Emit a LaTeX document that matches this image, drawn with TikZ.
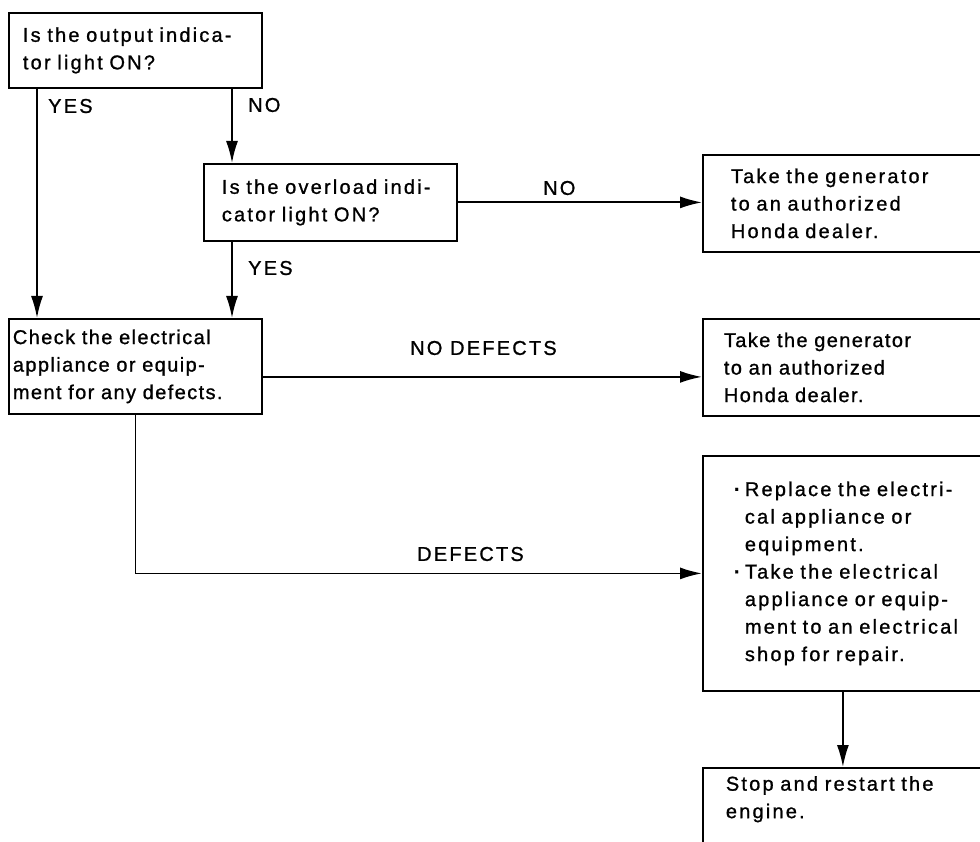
\documentclass[tikz,border=0pt]{standalone}
\usepackage{fontspec}
\setmainfont[LetterSpace=11,FakeBold=1]{Liberation Sans}
\newfontfamily\tightfont[LetterSpace=7,FakeBold=1]{Liberation Sans}
\usetikzlibrary{arrows.meta}

\newcommand{\chartfont}{\fontsize{20}{27.5}\selectfont}
\newcommand{\bulletmark}{\makebox[11pt][l]{\textbf{\textperiodcentered}}}
\newcommand{\bulletgap}{\hspace*{11pt}}

\begin{document}
\begin{tikzpicture}[x=1pt, y=-1pt,
    chartbox/.style={draw, line width=1.8pt, anchor=north west, align=left,
      inner sep=0pt, font=\chartfont},
    arr/.style={line width=1.8pt, -{Latex[length=22pt,width=12pt]}},
    answer/.style={inner sep=0pt, anchor=west, font=\chartfont}]
    \useasboundingbox (0,0) rectangle (980,842);

    % Fragen links
    \node[chartbox, minimum width=253pt, minimum height=75pt, text width=225pt]
      (outlight) at (8,12) {Is the output indica-\\tor light ON?};
    \node[chartbox, minimum width=253pt, minimum height=77pt, text width=217pt]
      (overload) at (203,163) {Is the overload indi-\\cator light ON?};
    \node[chartbox, minimum width=253pt, minimum height=95pt, text width=245pt]
      (check) at (8,318) {\tightfont Check the electrical\\appliance or equip-\\ment for any defects.};

    % Massnahmen rechts (rechter Rand abgeschnitten)
    \node[chartbox, minimum width=300pt, minimum height=97pt, text width=244pt]
      (dealerone) at (702,154) {Take the generator\\to an authorized\\Honda dealer.};
    \node[chartbox, minimum width=300pt, minimum height=97pt, text width=258pt]
      (dealertwo) at (702,318) {\tightfont Take the generator\\to an authorized\\Honda dealer.};
    \node[chartbox, minimum width=300pt, minimum height=235pt, text width=238pt]
      (replace) at (702,455) {\bulletmark Replace the electri-\\\bulletgap cal appliance or\\\bulletgap equipment.\\\bulletmark Take the electrical\\\bulletgap appliance or equip-\\\bulletgap ment to an electrical\\\bulletgap shop for repair.};
    \node[chartbox, minimum width=300pt, minimum height=78pt, text width=254pt, text depth=47pt]
      (restart) at (702,767) {Stop and restart the\\engine.};

    % Verbindungen
    \coordinate (stem) at ([xshift=29pt]overload.north west);
    \draw[arr] ([xshift=29pt]outlight.south west) -- ([xshift=29pt]check.north west);
    \draw[arr] (stem |- outlight.south) -- (stem);
    \draw[arr] (overload.south -| stem) -- (check.north -| stem);
    \draw[arr] (overload.east) -- (overload.east -| dealerone.west);
    \draw[arr] ([yshift=-10.5pt]check.east) -- ([yshift=-10.5pt]check.east -| dealertwo.west);
    \draw[arr] (check.south) |- (replace.west);
    \draw[arr] ([xshift=-10pt]replace.south) -- ([xshift=-10pt]restart.north);

    % Antworten
    \node[answer] (yesone) at (48,106) {YES};
    \node[answer] (noone) at (248,105) {NO};
    \node[answer] (notwo) at (543,188) {NO};
    \node[answer] (yestwo) at (248,268) {YES};
    \node[answer] (nodefects) at (410,348) {NO DEFECTS};
    \node[answer] (defects) at (417,554) {DEFECTS};
\end{tikzpicture}
\end{document}
